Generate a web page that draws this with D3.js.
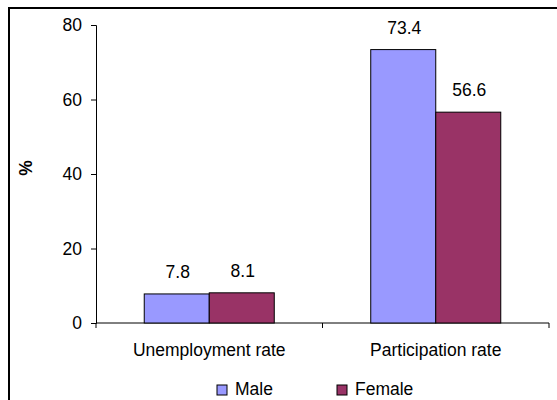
<!DOCTYPE html>
<html>
<head>
<meta charset="utf-8">
<script src="https://cdn.jsdelivr.net/npm/d3@7"></script>
<style>
  html, body { margin: 0; padding: 0; background: #fff; }
  svg { display: block; font-family: "Liberation Sans", Arial, sans-serif; }
</style>
</head>
<body>
<svg id="chart" width="557" height="400"></svg>
<script>
// Labour market indicators by sex
const categories = ["Unemployment rate", "Participation rate"];
const seriesNames = ["Male", "Female"];
const maleValues = [7.8, 73.4];
const femaleValues = [8.1, 56.6];
const yTicks = [0, 20, 40, 60, 80];
const colors = ["#9999FF", "#993366"];

const FS = 17.5;
const svg = d3.select("#chart");
const W = 557, H = 400;
const plot = { left: 96, right: 549, top: 25, bottom: 323 };

// chart frame (left and top edges fall inside the window)
svg.append("rect")
  .attr("x", 9).attr("y", 8)
  .attr("width", W + 20).attr("height", H + 20)
  .attr("fill", "#fff")
  .attr("stroke", "#000").attr("stroke-width", 2);

const x0 = d3.scaleBand().domain(categories).range([plot.left, plot.right]).padding(0);
const x1 = d3.scaleBand().domain(seriesNames).range([0, x0.bandwidth()])
  .paddingInner(0).paddingOuter(0.742);
const y = d3.scaleLinear().domain([0, 80]).range([plot.bottom, plot.top]);

const rows = categories.map((c, i) => ({
  category: c,
  values: [
    { name: seriesNames[0], value: maleValues[i], color: colors[0] },
    { name: seriesNames[1], value: femaleValues[i], color: colors[1] }
  ]
}));

// y axis
const yAxis = svg.append("g")
  .attr("transform", `translate(${plot.left},0)`)
  .call(d3.axisLeft(y).tickValues(yTicks).tickSize(5).tickPadding(9).tickFormat(d3.format("d")));
yAxis.select(".domain").attr("stroke", "#000");
yAxis.selectAll(".tick line").attr("stroke", "#000");
yAxis.selectAll("text").attr("font-size", FS).attr("fill", "#000")
  .attr("font-family", "Liberation Sans, Arial, sans-serif");

// x axis with ticks between categories
const xAxisG = svg.append("g").attr("transform", `translate(0,${plot.bottom})`);
xAxisG.append("line")
  .attr("x1", plot.left).attr("x2", plot.right)
  .attr("stroke", "#000");
const boundaries = [plot.left, ...categories.map(c => x0(c) + x0.bandwidth())];
xAxisG.selectAll(".xtick").data(boundaries).join("line")
  .attr("class", "xtick")
  .attr("x1", d => d).attr("x2", d => d)
  .attr("y1", 0).attr("y2", 5)
  .attr("stroke", "#000");
xAxisG.selectAll(".xlabel").data(categories).join("text")
  .attr("class", "xlabel")
  .attr("x", d => x0(d) + x0.bandwidth() / 2)
  .attr("y", 33)
  .attr("text-anchor", "middle")
  .attr("font-size", FS)
  .text(d => d);

// bars
const groups = svg.append("g").selectAll("g").data(rows).join("g")
  .attr("transform", d => `translate(${x0(d.category)},0)`);

groups.selectAll("rect").data(d => d.values).join("rect")
  .attr("x", d => x1(d.name))
  .attr("y", d => y(d.value))
  .attr("width", x1.bandwidth())
  .attr("height", d => y(0) - y(d.value))
  .attr("fill", d => d.color)
  .attr("stroke", "#000")
  .attr("stroke-width", 1);

// value labels
groups.selectAll("text").data(d => d.values).join("text")
  .attr("x", d => x1(d.name) + x1.bandwidth() / 2 + 1)
  .attr("y", d => y(d.value) - 16)
  .attr("text-anchor", "middle")
  .attr("font-size", FS)
  .text(d => d3.format(".1f")(d.value));

// y axis title
svg.append("text")
  .attr("transform", "translate(32,168) rotate(-90)")
  .attr("text-anchor", "middle")
  .attr("font-size", FS)
  .attr("font-weight", "bold")
  .text("%");

// legend
const legendX = [217, 337];
const legend = svg.append("g").selectAll("g").data(seriesNames).join("g")
  .attr("transform", (d, i) => `translate(${legendX[i]},385)`);
legend.append("rect")
  .attr("width", 10).attr("height", 10)
  .attr("fill", (d, i) => colors[i])
  .attr("stroke", "#000").attr("stroke-width", 1);
legend.append("text")
  .attr("x", 18).attr("y", 10)
  .attr("font-size", FS)
  .text(d => d);
</script>
</body>
</html>
